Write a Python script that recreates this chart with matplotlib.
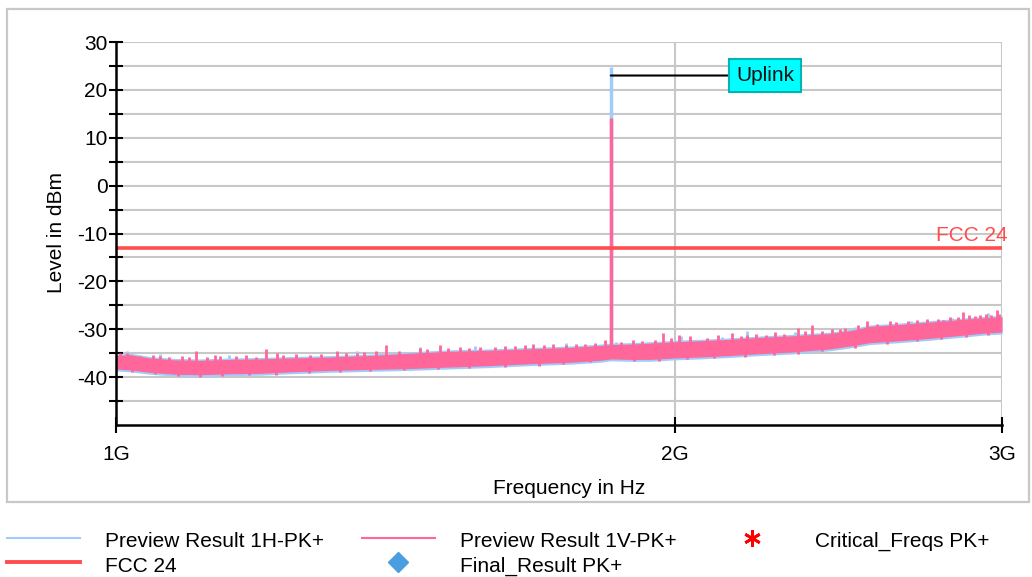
import numpy as np
import matplotlib
matplotlib.use("Agg")
import matplotlib.pyplot as plt
from matplotlib.lines import Line2D
from matplotlib.patches import Rectangle
from matplotlib.ticker import FixedLocator, NullLocator

plt.rcParams['font.family'] = ['Liberation Sans', 'DejaVu Sans']
plt.rcParams['axes.unicode_minus'] = False

# ---------------- data (frequencies in GHz, levels in dBm) ----------------
freq_ghz = [1.000, 1.0175, 1.043, 1.076, 1.110, 1.152, 1.196, 1.241, 1.304, 1.370,
            1.440, 1.513, 1.590, 1.671, 1.756, 1.822, 1.847, 1.891, 1.939, 2.000,
            2.063, 2.141, 2.222, 2.306, 2.424, 2.485, 2.547, 2.643, 2.744, 2.848,
            2.937, 3.000]
pink_hi = [-35.5, -35.3, -36.0, -36.4, -36.5, -36.3, -36.2, -36.0, -35.8, -35.5,
           -35.0, -34.6, -34.4, -34.1, -33.8, -33.4, -33.2, -33.1, -32.9, -32.6,
           -32.4, -32.1, -31.7, -31.4, -30.9, -30.3, -29.4, -29.0, -28.5, -28.0,
           -27.6, -27.4]
pink_lo = [-38.3, -38.5, -39.0, -39.4, -39.5, -39.3, -39.2, -38.9, -38.6, -38.4,
           -38.2, -37.9, -37.6, -37.2, -36.9, -36.5, -36.2, -36.3, -36.3, -36.0,
           -35.8, -35.5, -35.1, -34.8, -34.1, -33.5, -32.8, -32.4, -31.9, -31.3,
           -30.8, -30.6]
blue_hi = [-35.2, -35.0, -35.7, -36.1, -36.2, -36.0, -35.9, -35.7, -35.5, -35.2,
           -34.7, -34.3, -34.1, -33.8, -33.5, -33.1, -32.9, -32.8, -32.6, -32.3,
           -32.1, -31.8, -31.4, -31.1, -30.6, -30.0, -29.1, -28.7, -28.2, -27.7,
           -27.3, -27.1]
blue_lo = [-38.7, -38.9, -39.4, -39.8, -39.9, -39.7, -39.6, -39.3, -39.0, -38.8,
           -38.6, -38.3, -38.0, -37.6, -37.3, -36.9, -36.6, -36.7, -36.7, -36.4,
           -36.2, -35.9, -35.5, -35.2, -34.5, -33.9, -33.2, -32.8, -32.3, -31.7,
           -31.2, -31.0]

# upward noise spikes of the vertical-polarisation trace
pink_spike_f = [1.0050, 1.0137, 1.030, 1.047, 1.056, 1.068, 1.085, 1.095, 1.104, 1.120,
                1.130, 1.138, 1.160, 1.175, 1.190, 1.204, 1.221, 1.230, 1.250, 1.272,
                1.290, 1.315, 1.330, 1.348, 1.360, 1.380, 1.398, 1.420, 1.458, 1.470,
                1.494, 1.510, 1.532, 1.550, 1.570, 1.600, 1.620, 1.640, 1.660, 1.677,
                1.700, 1.720, 1.747, 1.770, 1.789, 1.810, 1.834, 1.870, 1.899, 1.920,
                1.950, 1.971, 1.990, 2.010, 2.038, 2.080, 2.110, 2.146, 2.170, 2.187,
                2.210, 2.240, 2.264, 2.290, 2.329, 2.350, 2.370, 2.400, 2.430, 2.454,
                2.470, 2.510, 2.538, 2.570, 2.611, 2.630, 2.670, 2.700, 2.734, 2.770,
                2.790, 2.813, 2.840, 2.858, 2.880, 2.900, 2.919, 2.940, 2.960, 2.981,
                2.990]
pink_spike_v = [-35.0, -35.0, -35.6, -35.4, -35.5, -35.8, -35.5, -35.9, -34.5, -35.7,
                -35.3, -35.6, -35.6, -35.4, -35.7, -34.1, -35.0, -35.4, -35.2, -35.3,
                -35.1, -34.5, -35.0, -35.0, -34.8, -34.6, -33.3, -34.5, -33.9, -34.2,
                -33.3, -34.0, -33.8, -33.9, -33.7, -33.8, -33.4, -33.5, -33.2, -33.0,
                -33.3, -33.0, -33.2, -33.1, -33.0, -32.8, -32.3, -32.6, -32.3, -32.4,
                -32.2, -30.8, -31.9, -31.3, -31.4, -31.8, -31.3, -30.8, -31.5, -31.2,
                -31.0, -31.2, -30.6, -30.9, -29.8, -30.4, -29.1, -30.3, -30.0, -30.0,
                -29.8, -29.2, -28.3, -28.8, -28.2, -28.5, -28.3, -28.0, -27.9, -27.8,
                -28.0, -27.5, -27.4, -26.4, -27.0, -27.3, -27.0, -26.9, -27.1, -26.0,
                -26.8]
# downward noise spikes of the vertical-polarisation trace
pink_dip_f = [1.02, 1.05, 1.08, 1.11, 1.14, 1.18, 1.22, 1.27, 1.32, 1.37, 1.43, 1.49,
              1.55, 1.62, 1.69, 1.74, 1.80, 1.90, 1.96, 2.03, 2.10, 2.18, 2.26, 2.33,
              2.40, 2.50, 2.60, 2.70, 2.78, 2.87, 2.95]
pink_dip_v = [-38.9, -39.4, -39.8, -39.9, -39.7, -39.6, -39.5, -39.1, -39.0, -38.8,
              -38.6, -38.3, -38.1, -37.9, -37.6, -37.3, -36.9, -36.7, -36.6, -36.3,
              -36.0, -35.7, -35.3, -35.1, -34.6, -33.9, -33.0, -32.4, -32.0, -31.6,
              -31.1]
# upward noise spikes of the horizontal-polarisation trace
blue_spike_f = [1.0137, 1.056, 1.150, 1.348, 1.458, 1.560, 1.747, 1.860, 2.014, 2.120,
                2.187, 2.320, 2.500, 2.680, 2.820, 2.950]
blue_spike_v = [-34.5, -35.2, -35.4, -34.5, -33.7, -33.6, -32.9, -32.6, -31.5, -31.6,
                -30.4, -30.5, -29.6, -28.3, -27.6, -26.7]

peak_f = 1.847
blue_peak = 24.8
pink_peak = 14.1

fcc_limit = -13.0

ytick_vals = [-40, -30, -20, -10, 0, 10, 20, 30]
yminor_vals = [-45, -35, -25, -15, -5, 5, 15, 25]
xtick_vals = [1.0, 2.0, 3.0]
xtick_labels = ['1G', '2G', '3G']

# ---------------- figure ----------------
W, H = 1032, 577
fig = plt.figure(figsize=(W / 100, H / 100), dpi=100)
fig.patch.set_facecolor('white')
fig.add_artist(Rectangle((7 / W, 1 - 502 / H), (1029 - 7) / W, (502 - 9) / H,
                         transform=fig.transFigure, fill=False,
                         ec='#c8c8c8', lw=1.6))

ax = fig.add_axes([116 / W, 1 - 425 / H, 886 / W, 383 / H])

f = np.array(freq_ghz) * 1e9
BLUE = '#9fcdfb'
PINK = '#ff6699'
RED = '#ff4d4d'

ax.fill_between(f, blue_lo, blue_hi, color=BLUE, lw=0, zorder=2)
bsf = np.array(blue_spike_f) * 1e9
ax.vlines(bsf, np.interp(bsf, f, blue_hi) - 1.5, blue_spike_v, color=BLUE, lw=2, zorder=2)
ax.vlines([peak_f * 1e9], np.interp(peak_f * 1e9, f, blue_hi), blue_peak,
          color=BLUE, lw=2.5, zorder=2)

ax.fill_between(f, pink_lo, pink_hi, color=PINK, lw=0, zorder=3)
psf = np.array(pink_spike_f) * 1e9
ax.vlines(psf, np.interp(psf, f, pink_hi) - 1.5, pink_spike_v, color=PINK, lw=2, zorder=3)
pdf = np.array(pink_dip_f) * 1e9
ax.vlines(pdf, np.interp(pdf, f, pink_lo) + 1.5, pink_dip_v, color=PINK, lw=2, zorder=3)
ax.vlines([peak_f * 1e9], np.interp(peak_f * 1e9, f, pink_hi), pink_peak,
          color=PINK, lw=2.5, zorder=3)

ax.axhline(fcc_limit, color=RED, lw=2.6, zorder=4)
ax.annotate('FCC 24', xy=(3e9, fcc_limit), xytext=(4, 2), textcoords='offset points',
            ha='right', va='bottom', color=RED, fontsize=15, annotation_clip=False)

ax.annotate('Uplink', xy=(peak_f * 1e9, 23.0), xytext=(2.236e9, 23.0),
            ha='center', va='center', fontsize=15, color='#111111',
            bbox=dict(boxstyle='square,pad=0.32', fc='#00ffff', ec='#00b4b4', lw=1.5),
            arrowprops=dict(arrowstyle='-', color='black', lw=1.5,
                            shrinkA=0, shrinkB=0), zorder=6)

ax.set_xscale('log')
ax.set_xlim(1e9, 3e9)
ax.set_ylim(-50, 30)
ax.xaxis.set_major_locator(FixedLocator([v * 1e9 for v in xtick_vals]))
ax.xaxis.set_minor_locator(NullLocator())
ax.set_xticklabels(xtick_labels)
ax.yaxis.set_major_locator(FixedLocator(ytick_vals))
ax.yaxis.set_minor_locator(FixedLocator(yminor_vals))

ax.grid(True, axis='y', which='both', color='#c8c8c8', lw=1.5, zorder=0)
ax.grid(True, axis='x', which='major', color='#c8c8c8', lw=1.5, zorder=0)
ax.set_axisbelow(True)

for s in ['top', 'right']:
    ax.spines[s].set_visible(False)
for s in ['left', 'bottom']:
    ax.spines[s].set_linewidth(1.8)
    ax.spines[s].set_zorder(5)

ax.tick_params(axis='y', which='both', direction='inout', length=10, width=1.5,
               labelsize=15, pad=1, colors='black')
ax.tick_params(axis='x', which='major', direction='inout', length=11, width=1.5,
               labelsize=15, pad=9, colors='black')

fig.text(569 / W, 1 - 488 / H, 'Frequency in Hz', ha='center', va='center', fontsize=15)
fig.text(57 / W, 1 - 233 / H, 'Level in dBm', ha='center', va='center',
         rotation=90, fontsize=15)

# ---------------- legend ----------------
def fx(px):
    return px / W

def fy(py):
    return 1 - py / H

h1, h2 = 538, 562      # handle rows
b1, b2 = 547, 572      # text baselines
fs = 15
fig.add_artist(Line2D([fx(7), fx(80)], [fy(h1), fy(h1)], color=BLUE, lw=1.5,
                      transform=fig.transFigure))
fig.text(fx(105), fy(b1), 'Preview Result 1H-PK+', va='baseline', fontsize=fs)
fig.add_artist(Line2D([fx(7), fx(80)], [fy(h2), fy(h2)], color=RED, lw=2.8,
                      transform=fig.transFigure))
fig.text(fx(105), fy(b2), 'FCC 24', va='baseline', fontsize=fs)
fig.add_artist(Line2D([fx(362), fx(435)], [fy(h1), fy(h1)], color=PINK, lw=1.5,
                      transform=fig.transFigure))
fig.text(fx(460), fy(b1), 'Preview Result 1V-PK+', va='baseline', fontsize=fs)
fig.add_artist(Line2D([fx(398)], [fy(h2)], marker='D', ms=10, color='#4a9ee0',
                      lw=0, transform=fig.transFigure))
fig.text(fx(460), fy(b2), 'Final_Result PK+', va='baseline', fontsize=fs)
fig.add_artist(Line2D([fx(752)], [fy(h1)], marker=(6, 2, 0), ms=12, mew=2,
                      color='red', lw=0, transform=fig.transFigure))
fig.text(fx(815), fy(b1), 'Critical_Freqs PK+', va='baseline', fontsize=fs)

fig.savefig('out.png', dpi=100, facecolor='white')
